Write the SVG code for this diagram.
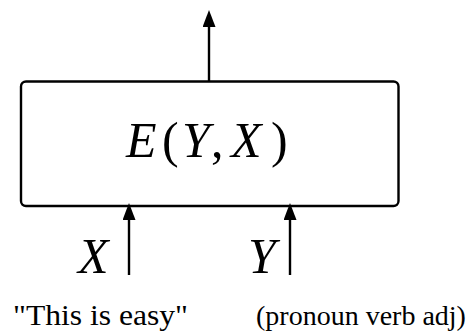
<svg xmlns="http://www.w3.org/2000/svg" width="467" height="335" viewBox="0 0 467 335">
<style>
.box{fill:#fff;stroke:#000;stroke-width:2.4}
.conn{stroke:#000;stroke-width:2.4;fill:none}
.m{font-family:"Liberation Serif","Times New Roman",serif;font-size:50px;fill:#000}
.i{font-style:italic}
.lbl{font-family:"Liberation Serif","Times New Roman",serif;font-size:30px;fill:#000}
</style>
<defs>
<marker id="ah" viewBox="0 0 17 13" refX="0" refY="6.5" markerWidth="17" markerHeight="13" markerUnits="userSpaceOnUse" orient="auto">
<path d="M0,0 L17,6.5 L0,13 z" fill="#000"/>
</marker>
</defs>
<rect width="467" height="335" fill="#fff"/>
<g id="node-E">
<rect class="box" x="21" y="81.5" width="377.5" height="124.5" rx="5"/>
<text class="m" y="157"><tspan class="i" x="126">E</tspan><tspan x="162">(</tspan><tspan class="i" x="182">Y</tspan><tspan x="211">,</tspan><tspan class="i" x="231">X</tspan><tspan x="271">)</tspan></text>
</g>
<g id="input-X">
<text class="m i" x="78" y="273">X</text>
<text class="lbl" x="13" y="325" textLength="175" lengthAdjust="spacingAndGlyphs">"This is easy"</text>
</g>
<g id="input-Y">
<text class="m i" x="248" y="273">Y</text>
<text class="lbl" x="256" y="325" style="font-size:28px">(pronoun verb adj)</text>
</g>
<g id="connectors">
<line class="conn" x1="209" y1="81" x2="209" y2="27" marker-end="url(#ah)"/>
<line class="conn" x1="129" y1="275" x2="129" y2="220" marker-end="url(#ah)"/>
<line class="conn" x1="290" y1="275" x2="290" y2="220" marker-end="url(#ah)"/>
</g>
</svg>
